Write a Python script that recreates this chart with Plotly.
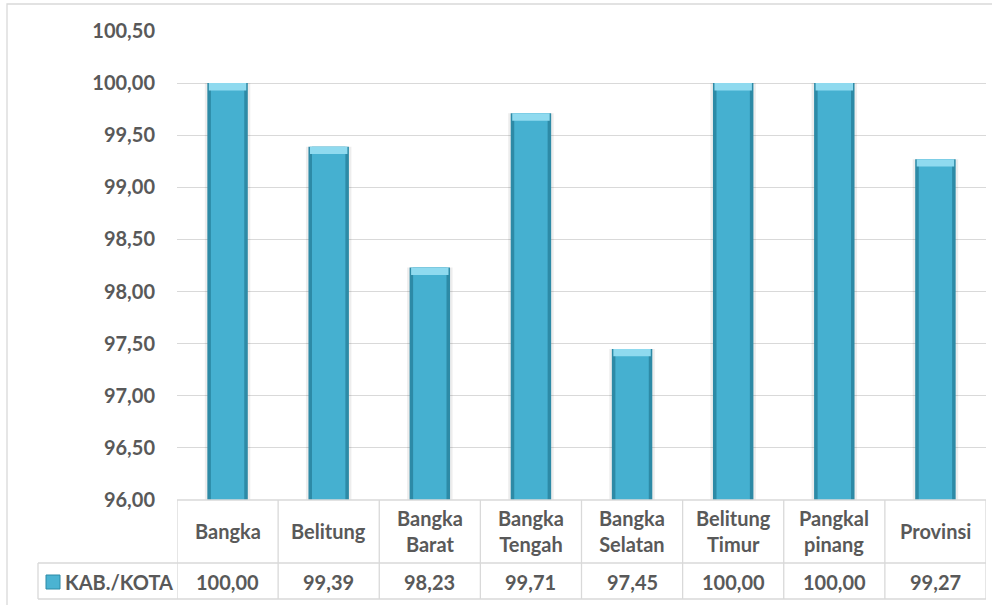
import plotly.graph_objects as go

# ---- data ----
categories = ["Bangka", "Belitung", "Bangka<br>Barat", "Bangka<br>Tengah",
              "Bangka<br>Selatan", "Belitung<br>Timur", "Pangkal<br>pinang", "Provinsi"]
values = [100.00, 99.39, 98.23, 99.71, 97.45, 100.00, 100.00, 99.27]
series_name = "KAB./KOTA"
y_ticks = [96.0, 96.5, 97.0, 97.5, 98.0, 98.5, 99.0, 99.5, 100.0, 100.5]

# ---- style ----
FONT = "Lato"
TXT = "#595959"
GRID = "#d9d9d9"
W, H = 992, 605
L, R, T, B = 177, 6, 31, 105
pw, ph = W - L - R, H - T - B
FS = 20

def px_x(p):
    return (p - L) / pw

def px_y(p):
    return (H - B - p) / ph

xpos = list(range(len(categories)))
fig = go.Figure()

# shadow
fig.add_trace(go.Bar(x=xpos, y=[v - 96 for v in values], base=96, width=0.45,
                     marker=dict(color="rgba(0,0,0,0.07)", line=dict(width=0)),
                     hoverinfo="skip", showlegend=False))
# dark body edges
fig.add_trace(go.Bar(x=xpos, y=[v - 96 for v in values], base=96, width=0.40,
                     marker=dict(color="#2d8aa6", line=dict(width=0)),
                     name=series_name, showlegend=False))
# main face
fig.add_trace(go.Bar(x=xpos, y=[v - 96 for v in values], base=96, width=0.33,
                     marker=dict(color="#45b0d0", line=dict(width=0)),
                     hoverinfo="skip", showlegend=False))
# top bevel
bevel = 0.07
fig.add_trace(go.Bar(x=xpos, y=[bevel] * len(values), base=[v - bevel for v in values],
                     width=0.37, marker=dict(color="#8fdaef", line=dict(width=0)),
                     hoverinfo="skip", showlegend=False))

shapes = []
line = dict(color=GRID, width=1.3)
# outer chart border
shapes.append(dict(type="rect", xref="paper", yref="paper",
                   x0=px_x(7), x1=px_x(W + 20), y0=px_y(4), y1=px_y(H + 20),
                   line=dict(color=GRID, width=1.3), layer="below"))
# table lines
y_top, y_mid, y_bot = 500, 563, 599
shapes.append(dict(type="line", xref="paper", yref="paper", x0=0, x1=1,
                   y0=px_y(y_top), y1=px_y(y_top), line=line))
for yy in (y_mid, y_bot):
    shapes.append(dict(type="line", xref="paper", yref="paper", x0=px_x(38), x1=1,
                       y0=px_y(yy), y1=px_y(yy), line=line))
shapes.append(dict(type="line", xref="paper", yref="paper", x0=px_x(38), x1=px_x(38),
                   y0=px_y(y_mid), y1=px_y(y_bot), line=line))
for i in range(len(categories) + 1):
    shapes.append(dict(type="line", xref="x", yref="paper", x0=i - 0.5, x1=i - 0.5,
                       y0=px_y(y_top), y1=px_y(y_bot), line=line))
# legend key
shapes.append(dict(type="rect", xref="paper", yref="paper",
                   x0=px_x(46), x1=px_x(60), y0=px_y(575), y1=px_y(589),
                   fillcolor="#4bb3d2", line=dict(color="#2d8aa6", width=1)))

annotations = []
for i, c in enumerate(categories):
    annotations.append(dict(x=i, y=px_y((y_top + y_mid) / 2 - 0.5), xref="x", yref="paper",
                            text=f"<b>{c}</b>", showarrow=False, xanchor="center",
                            yanchor="middle", font=dict(family=FONT, size=FS, color=TXT)))
    annotations.append(dict(x=i, y=px_y((y_mid + y_bot) / 2 + 1), xref="x", yref="paper",
                            text="<b>" + f"{values[i]:.2f}".replace(".", ",") + "</b>",
                            showarrow=False, xanchor="center", yanchor="middle",
                            font=dict(family=FONT, size=FS, color=TXT)))
annotations.append(dict(x=px_x(63), y=px_y((y_mid + y_bot) / 2 + 1), xref="paper", yref="paper",
                        text=f"<b>{series_name}</b>", showarrow=False, xanchor="left",
                        yanchor="middle", font=dict(family=FONT, size=FS, color=TXT)))

fig.update_layout(
    width=W, height=H,
    margin=dict(l=L, r=R, t=T, b=B),
    paper_bgcolor="white", plot_bgcolor="white",
    barmode="overlay",
    separators=",.",
    showlegend=False,
    shapes=shapes,
    annotations=annotations,
    xaxis=dict(range=[-0.5, len(categories) - 0.5], showticklabels=False,
               showgrid=False, zeroline=False, showline=False, fixedrange=True),
    yaxis=dict(range=[96, 100.5], tickvals=y_ticks, tickformat=".2f",
               showgrid=True, gridcolor=GRID, gridwidth=1.3, zeroline=False,
               showline=False, ticks="", ticklabelstandoff=21,
               tickfont=dict(family=FONT, size=FS, color=TXT, weight="bold"),
               fixedrange=True),
)

fig.write_html("out.html", config={"displayModeBar": False},
               post_script="document.body.style.margin='0';")
